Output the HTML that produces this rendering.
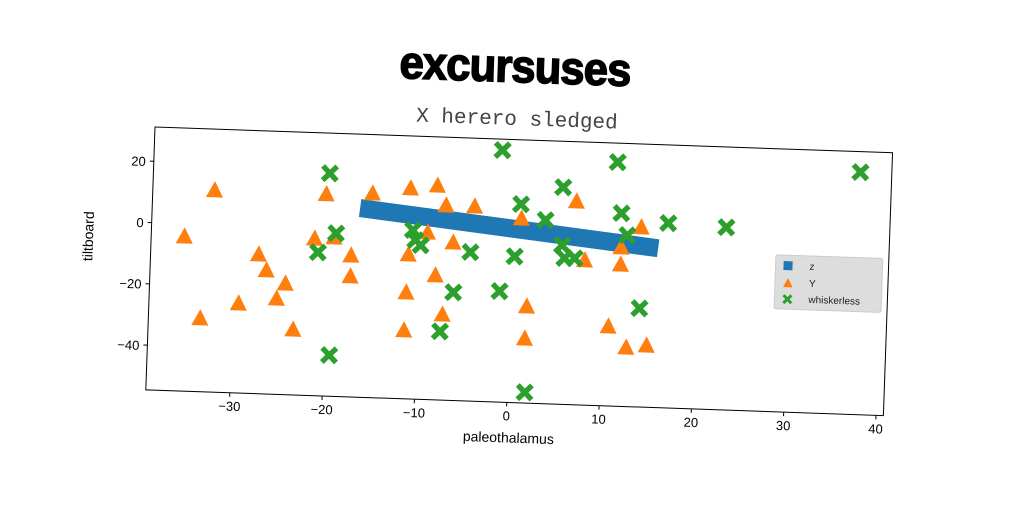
<!DOCTYPE html>
<html><head><meta charset="utf-8">
<style>
html,body{margin:0;padding:0;background:#fff;}
body{width:1024px;height:512px;overflow:hidden;font-family:"Liberation Sans","DejaVu Sans",sans-serif;}
</style></head>
<body>
<svg id="chart" width="1024" height="512" viewBox="0 0 1024 512" xmlns="http://www.w3.org/2000/svg">
  <g transform="rotate(2 515 68)">
    <text x="0" y="0" text-anchor="middle" font-family="Liberation Sans, sans-serif" font-weight="bold" font-size="46" transform="translate(515 82) scale(0.95 1)" fill="#000" stroke="#000" stroke-width="1.5" style="letter-spacing:-1px">excursuses</text>
  </g>
  <text x="517" y="125" text-anchor="middle" font-family="Liberation Mono, monospace" font-size="21" fill="#444" transform="rotate(2 516 118)">X herero sledged</text>
  <g id="plot" transform="translate(155 127) rotate(2)"></g>
</svg>
<script>
const zX = [-16.6, 15.8];
const zY = [7.1, -2.6];
const yTriX = [-32.4,-35.5,-33.5,-29.4,-27.4,-26.5,-25.3,-24.4,-23.4,-20.3,-21.4,-19.3,-17.4,-17.4,-15.3,-11.2,-8.3,-7.3,-4.2,-9.2,-11.2,-6.4,-8.2,-11.3,-7.3,-11.4,0.9,1.8,1.7,6.8,7.9,10.7,11.8,11.8,13.9,12.7,14.9];
const yTriY = [11.3,-4.1,-30.6,-25.3,-9.1,-14.2,-23.3,-18.3,-33.2,11.3,-3.3,-2.7,-8.4,-15.2,12.1,14.2,15.4,9,9,0,-7.4,-3,-13.9,-19.8,-26.6,-32.2,5.6,-23,-33.5,11.8,-7.3,-28.6,-2.7,-8.3,4.1,-35.3,-34.4];
const wX = [-1.4,11.1,37.4,-20,5.3,0.8,11.7,3.5,16.8,23.1,12.4,-19.1,-10.8,-10.5,-9.9,-21,-4.5,0.3,5.4,5.7,6.8,-6.2,-1.2,14,-7.5,-19.4,1.9];
const wY = [27.6,25,24.5,18.1,16.2,10.2,8.4,5.3,5.7,5,1.3,-1.4,0.5,-2.7,-4.3,-7.8,-6,-6.9,-2.7,-6.9,-6.8,-19.3,-18.4,-22.4,-32.2,-41.2,-51.1];
const xTicks = [-30,-20,-10,0,10,20,30,40];
const yTicks = [20,0,-20,-40];

const W=738,H=263,xmin=-39.1,xmax=40.8,ymin=-54.6,ymax=31.2;
const sx=v=>(v-xmin)/(xmax-xmin)*W;
const sy=v=>(ymax-v)/(ymax-ymin)*H;
const NS="http://www.w3.org/2000/svg";
const g=document.getElementById('plot');
function mk(tag,attrs,parent){const e=document.createElementNS(NS,tag);for(const k in attrs)e.setAttribute(k,attrs[k]);(parent||g).appendChild(e);return e;}

const frame=mk('rect',{x:0,y:0,width:W,height:H,fill:'none',stroke:'#000','stroke-width':1});



xTicks.forEach(t=>{
  const x=sx(t);
  const tk=mk('line',{x1:x,y1:H,x2:x,y2:H+4,stroke:'#000'});
  
  
  const tl=mk('text',{x:x,y:H+18,'text-anchor':'middle','font-size':13,fill:'#000'});
  tl.textContent=(t<0?'\u2212':'')+Math.abs(t);
  
  
});
yTicks.forEach(t=>{
  const y=sy(t);
  const tk=mk('line',{x1:-4,y1:y,x2:0,y2:y,stroke:'#000'});
  
  
  const tl=mk('text',{x:-8,y:y+5,'text-anchor':'end','font-size':13,fill:'#000'});
  tl.textContent=(t<0?'\u2212':'')+Math.abs(t);
  
  
});
const xl=mk('text',{x:W/2-5,y:H+40,'text-anchor':'middle','font-size':14,fill:'#000'});
xl.textContent='paleothalamus';


const yl=mk('text',{x:0,y:0,'text-anchor':'middle','font-size':14,fill:'#000',transform:`translate(-58 ${H/2-20}) rotate(-90)`});
yl.textContent='tiltboard';



const zl=mk('polyline',{points:zX.map((v,i)=>sx(v)+','+sy(zY[i])).join(' '),fill:'none',stroke:'#1f77b4','stroke-width':18,'stroke-linecap':'butt'});



function tri(cx,cy,s,parent){return mk('polygon',{points:`${cx},${cy-s} ${cx-s*0.95},${cy+s*0.8} ${cx+s*0.95},${cy+s*0.8}`,fill:'#ff7f0e'},parent);}
function xm(cx,cy,s,parent){const a=s*0.42;return mk('path',{d:`M${cx-s},${cy-s+a} L${cx-s+a},${cy-s} L${cx},${cy-a} L${cx+s-a},${cy-s} L${cx+s},${cy-s+a} L${cx+a},${cy} L${cx+s},${cy+s-a} L${cx+s-a},${cy+s} L${cx},${cy+a} L${cx-s+a},${cy+s} L${cx-s},${cy+s-a} L${cx-a},${cy} Z`,fill:'#2ca02c'},parent);}

yTriX.forEach((v,i)=>{
  const p=tri(sx(v),sy(yTriY[i]),9);
  
  
});
wX.forEach((v,i)=>{
  const p=xm(sx(v),sy(wY[i]),9);
  
  
});

const lg=mk('g',{transform:'translate(625 106)'});


const lb=mk('rect',{x:0,y:0,width:107,height:54,rx:2,fill:'#d9d9d9','fill-opacity':0.9,stroke:'#ccc'},lg);


const e1=mk('rect',{x:8,y:6,width:9,height:9,fill:'#1f77b4'},lg);


const e2=tri(13,28,5,lg);


const e3=xm(13,44,5,lg);


[['z',14],['Y',31],['whiskerless',47]].forEach(([t,y])=>{
  const tx=mk('text',{x:34,y:y,'font-size':10,fill:'#222'},lg);
  tx.textContent=t;
  
  
});
</script>
</body></html>
